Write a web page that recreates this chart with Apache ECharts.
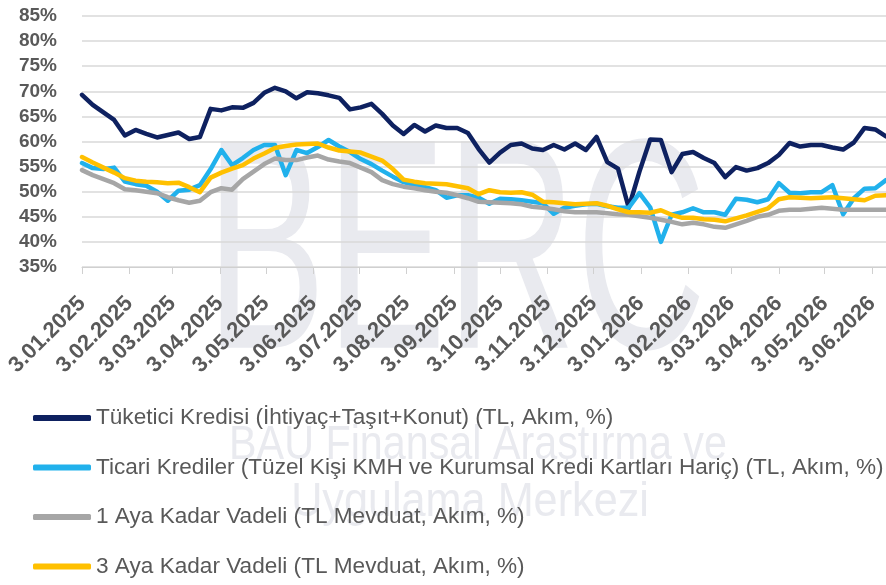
<!DOCTYPE html>
<html>
<head>
<meta charset="utf-8">
<script src="https://cdn.jsdelivr.net/npm/echarts@6/dist/echarts.min.js"></script>
<style>
  html, body { margin: 0; padding: 0; background: #fff; }
  #chart { width: 886px; height: 585px; }
</style>
</head>
<body>
<div id="chart"></div>
<script>
// haftalik veriler, 3.01.2025'ten itibaren
var startDate = '2025-01-03'
var monthLabels = ['3.01.2025', '3.02.2025', '3.03.2025', '3.04.2025', '3.05.2025', '3.06.2025',
  '3.07.2025', '3.08.2025', '3.09.2025', '3.10.2025', '3.11.2025', '3.12.2025',
  '3.01.2026', '3.02.2026', '3.03.2026', '3.04.2026', '3.05.2026', '3.06.2026']

var seriesNames = [
  'Tüketici Kredisi (İhtiyaç+Taşıt+Konut) (TL, Akım, %)',
  'Ticari Krediler (Tüzel Kişi KMH ve Kurumsal Kredi Kartları Hariç) (TL, Akım, %)',
  '1 Aya Kadar Vadeli (TL Mevduat, Akım, %)',
  '3 Aya Kadar Vadeli (TL Mevduat, Akım, %)'
]

var tuketici = [69.3, 67.3, 65.8, 64.3, 61.2, 62.3, 61.5, 60.8, 61.3, 61.8,
  60.5, 60.9, 66.5, 66.2, 66.8, 66.7, 67.7, 69.7, 70.7, 70.0,
  68.6, 69.8, 69.6, 69.2, 68.7, 66.4, 66.8, 67.5, 65.5, 63.2,
  61.5, 63.3, 62.0, 63.2, 62.7, 62.7, 61.7, 58.5, 55.8, 57.8,
  59.3, 59.6, 58.6, 58.3, 59.3, 58.4, 59.6, 58.3, 60.9, 55.9,
  54.6, 46.8, 54.0, 60.4, 60.3, 53.9, 57.5, 57.9, 56.7, 55.7,
  52.9, 54.9, 54.2, 54.7, 55.7, 57.3, 59.7, 59.0, 59.3, 59.3,
  58.8, 58.4, 59.8, 62.7, 62.4, 61.0]

var ticari = [55.7, 54.7, 54.5, 54.8, 52.0, 51.5, 51.2, 50.0, 48.2, 50.2,
  50.4, 51.3, 54.5, 58.3, 55.3, 56.7, 58.3, 59.3, 59.3, 53.3,
  58.3, 57.7, 58.9, 60.3, 59.0, 57.9, 56.5, 55.5, 54.2, 53.0,
  51.9, 51.3, 50.9, 50.3, 48.8, 49.3, 49.3, 48.8, 47.6, 48.6,
  48.5, 48.3, 48.0, 47.7, 45.6, 46.8, 47.2, 47.5, 47.6, 47.1,
  46.8, 46.8, 49.7, 46.9, 40.0, 45.4, 45.9, 46.7, 45.9, 45.9,
  45.4, 48.6, 48.4, 47.9, 48.5, 51.7, 49.8, 49.7, 49.9, 49.9,
  51.3, 45.5, 48.7, 50.6, 50.7, 52.3]

var birAy = [54.3, 53.3, 52.5, 51.7, 50.5, 50.3, 50.0, 49.7, 48.9, 48.3,
  47.8, 48.2, 49.9, 50.7, 50.4, 52.5, 54.0, 55.5, 56.6, 56.3,
  56.3, 56.8, 57.2, 56.4, 56.0, 55.7, 54.8, 53.9, 52.3, 51.5,
  51.0, 50.7, 50.3, 50.0, 49.8, 49.3, 48.7, 48.0, 47.9, 47.8,
  47.7, 47.5, 47.0, 46.8, 46.5, 46.1, 45.9, 45.9, 45.9, 45.7,
  45.5, 45.4, 45.1, 44.8, 44.4, 44.0, 43.5, 43.8, 43.5, 43.0,
  42.8, 43.5, 44.2, 45.0, 45.4, 46.2, 46.4, 46.4, 46.6, 46.8,
  46.6, 46.4, 46.4, 46.4, 46.4, 46.4]

var ucAy = [56.9, 55.8, 54.8, 53.8, 52.7, 52.2, 52.0, 51.9, 51.7, 51.8,
  50.9, 49.9, 52.8, 53.8, 54.6, 55.3, 56.6, 57.6, 58.7, 59.1,
  59.4, 59.5, 59.6, 58.8, 58.2, 58.0, 57.8, 57.0, 56.2, 54.5,
  52.4, 52.0, 51.7, 51.6, 51.5, 51.1, 50.7, 49.5, 50.3, 49.9,
  49.8, 49.9, 49.4, 48.0, 47.9, 47.7, 47.5, 47.6, 47.7, 47.2,
  46.5, 45.9, 45.9, 45.8, 46.3, 45.4, 44.8, 44.8, 44.5, 44.4,
  44.1, 44.7, 45.3, 46.0, 46.7, 48.5, 48.9, 48.8, 48.7, 48.8,
  48.9, 48.7, 48.5, 48.3, 49.2, 49.3]

var colors = ['#0e2160', '#21b1ec', '#a6a6a6', '#ffc000']

function parseDate(s) {
  var p = s.split('-')
  return new Date(+p[0], +p[1] - 1, +p[2]).getTime()
}
function parseLabel(s) {
  var p = s.split('.')
  return new Date(+p[2], +p[1] - 1, +p[0]).getTime()
}
function pad(n) {
  return n < 10 ? '0' + n : '' + n
}

// hafta tarihleri
var t0 = parseDate(startDate)
var weekDates = []
for (var i = 0; i < tuketici.length; i++) {
  var d = new Date(t0)
  d.setDate(d.getDate() + 7 * i)
  weekDates.push(d.getTime())
}
var monthTicks = monthLabels.map(parseLabel)

function toPairs(arr) {
  return arr.map(function (v, i) { return [weekDates[i], v] })
}

var chart = echarts.init(document.getElementById('chart'))
var wmColor = '#e9eaef'
var sans = '"Liberation Sans", Arial, sans-serif'

var option = {
  animation: false,
  backgroundColor: '#fff',
  color: colors,
  // arka plandaki logo yazilari
  graphic: [
    {
      type: 'text',
      z: -10,
      x: 206,
      y: 265,
      scaleX: 0.6,
      silent: true,
      style: {
        text: 'BERC',
        font: '300px ' + sans,
        fill: wmColor,
        textVerticalAlign: 'middle'
      }
    },
    {
      type: 'text',
      z: -10,
      x: 478,
      y: 446,
      scaleX: 0.86,
      silent: true,
      style: {
        text: 'BAU Finansal Araştırma ve',
        font: '48px ' + sans,
        fill: wmColor,
        textAlign: 'center',
        textVerticalAlign: 'middle'
      }
    },
    {
      type: 'text',
      z: -10,
      x: 470,
      y: 503,
      scaleX: 0.9,
      silent: true,
      style: {
        text: 'Uygulama Merkezi',
        font: '48px ' + sans,
        fill: wmColor,
        textAlign: 'center',
        textVerticalAlign: 'middle'
      }
    }
  ],
  legend: {
    orient: 'vertical',
    left: 33,
    top: 405,
    padding: 0,
    itemWidth: 58,
    itemHeight: 6,
    itemGap: 23.5,
    icon: 'roundRect',
    selectedMode: false,
    textStyle: {
      color: '#595959',
      fontSize: 22.6,
      lineHeight: 26,
      fontFamily: sans
    },
    data: seriesNames
  },
  grid: {
    left: 82,
    right: 0,
    top: 16,
    bottom: 318,
    containLabel: false
  },
  xAxis: {
    type: 'value',
    min: weekDates[0],
    max: weekDates[weekDates.length - 1],
    axisLine: {
      show: true,
      lineStyle: { color: '#d0d0d0', width: 1 }
    },
    axisTick: {
      show: true,
      length: 7,
      customValues: monthTicks,
      lineStyle: { color: '#d0d0d0' }
    },
    splitLine: { show: false },
    axisLabel: {
      customValues: monthTicks,
      rotate: 45,
      margin: 33,
      color: '#595959',
      fontWeight: 'bold',
      fontSize: 22,
      fontFamily: sans,
      hideOverlap: false,
      formatter: function (v) {
        var d = new Date(v)
        return d.getDate() + '.' + pad(d.getMonth() + 1) + '.' + d.getFullYear()
      }
    }
  },
  yAxis: {
    type: 'value',
    min: 35,
    max: 85,
    interval: 5,
    axisLine: { show: false },
    axisTick: { show: false },
    splitLine: {
      show: true,
      lineStyle: { color: '#d9d9d9', width: 1.5 }
    },
    axisLabel: {
      formatter: '{value}%',
      color: '#595959',
      fontWeight: 'bold',
      fontSize: 19,
      margin: 25,
      fontFamily: sans
    }
  },
  series: [
    { name: seriesNames[0], data: toPairs(tuketici) },
    { name: seriesNames[1], data: toPairs(ticari) },
    { name: seriesNames[2], data: toPairs(birAy) },
    { name: seriesNames[3], data: toPairs(ucAy) }
  ].map(function (s, i) {
    s.type = 'line'
    s.symbol = 'none'
    s.showSymbol = false
    s.lineStyle = { width: 4.5, color: colors[i], join: 'round', cap: 'round' }
    s.itemStyle = { color: colors[i] }
    return s
  })
}

chart.setOption(option)
</script>
</body>
</html>
